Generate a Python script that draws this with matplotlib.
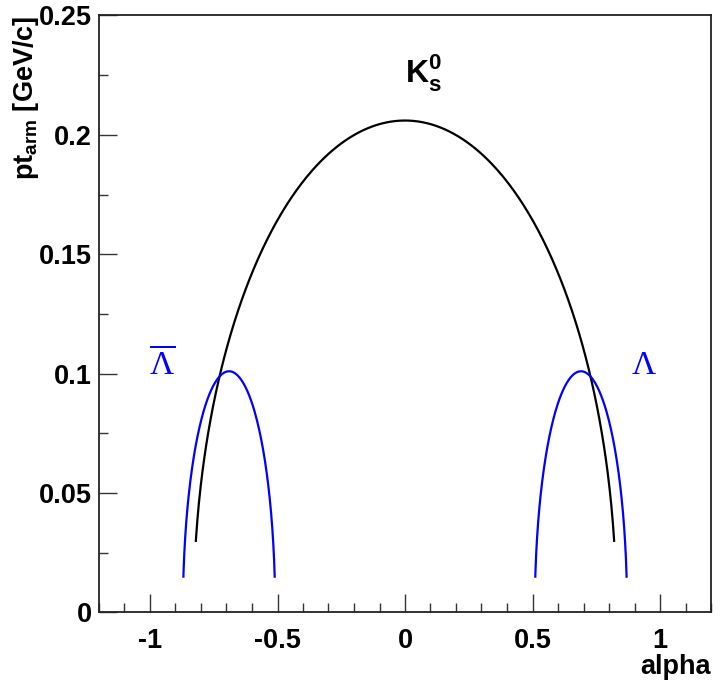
import numpy as np
import matplotlib
matplotlib.use('Agg')
import matplotlib.pyplot as plt
from matplotlib.ticker import MultipleLocator

plt.rcParams['font.family'] = ['Liberation Sans', 'DejaVu Sans']
plt.rcParams['mathtext.fontset'] = 'custom'
plt.rcParams['mathtext.rm'] = 'Liberation Serif'
plt.rcParams['mathtext.bf'] = 'Liberation Sans:bold'

# Armenteros ellipses: centre in alpha, half width in alpha,
# max pt (p*), and the lowest pt at which the curve is drawn
names = ['K0s', 'Lambda', 'AntiLambda']
alpha_centre = [0.0, 0.69, -0.69]
alpha_radius = [0.829, 0.181, 0.181]
pt_max = [0.206, 0.101, 0.101]
pt_cut = [0.030, 0.015, 0.015]
colors = ['black', 'blue', 'blue']

fig = plt.figure(figsize=(7.2, 6.87), dpi=100)
ax = fig.add_axes([0.1375, 0.1085, 0.85, 0.869])

for a0, ra, p, pmin, c in zip(alpha_centre, alpha_radius, pt_max, pt_cut, colors):
    th0 = np.arcsin(pmin / p)
    th = np.linspace(th0, np.pi - th0, 400)
    ax.plot(a0 + ra * np.cos(th), p * np.sin(th), color=c, lw=1.6)

ax.set_xlim(-1.2, 1.2)
ax.set_ylim(0, 0.25)

ax.xaxis.set_minor_locator(MultipleLocator(0.1))
ax.yaxis.set_minor_locator(MultipleLocator(0.025))
ax.set_xticks([-1, -0.5, 0, 0.5, 1])
ax.set_xticklabels(['-1', '-0.5', '0', '0.5', '1'])
ax.set_yticks([0, 0.05, 0.1, 0.15, 0.2, 0.25])
ax.set_yticklabels(['0', '0.05', '0.1', '0.15', '0.2', '0.25'])

ax.tick_params(which='major', direction='in', length=13, width=1, color='#333333')
ax.tick_params(which='minor', direction='in', length=6.5, width=1, color='#333333')
ax.tick_params(axis='x', which='major', pad=11)
ax.tick_params(axis='y', which='major', pad=5)
for lab in ax.get_xticklabels() + ax.get_yticklabels():
    lab.set_fontsize(19.5)
    lab.set_fontweight('bold')
for s in ax.spines.values():
    s.set_linewidth(1.3)
    s.set_color('#222222')

ax.set_xlabel('alpha', fontsize=19.5, fontweight='bold', loc='right')
ax.xaxis.set_label_coords(1.0, -0.07)
ax.set_ylabel(r'$\mathbf{pt}_{\mathbf{arm}}$ [GeV/c]', fontsize=19.5, fontweight='bold', loc='top')
ax.yaxis.set_label_coords(-0.095, 1.0)

ax.text(0.0, 0.222, r'$\mathbf{K}^{\mathbf{0}}_{\mathbf{s}}$', fontsize=23, ha='left', va='baseline')
ax.text(-0.953, 0.0998, r'$\overline{\Lambda}$', fontsize=24, color='blue', ha='center', va='baseline')
ax.text(0.936, 0.0998, r'$\Lambda$', fontsize=24, color='blue', ha='center', va='baseline')

fig.savefig('out.png', dpi=100)
